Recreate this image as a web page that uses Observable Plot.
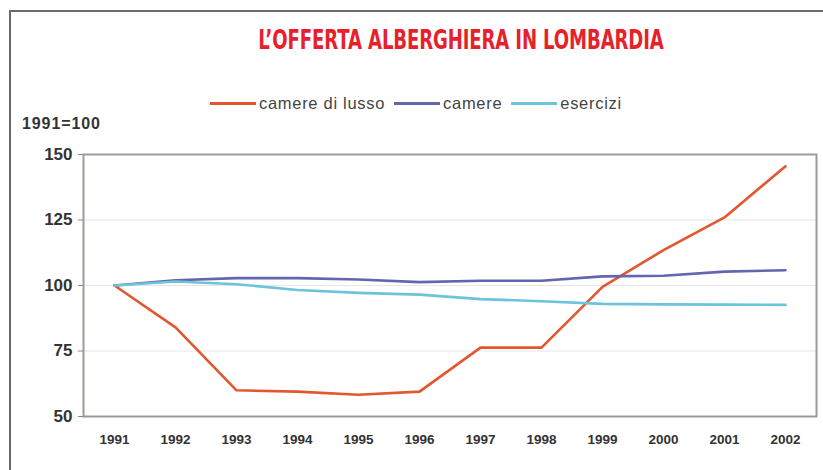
<!DOCTYPE html>
<html>
<head>
<meta charset="utf-8">
<script src="https://cdn.jsdelivr.net/npm/d3@7"></script>
<script src="https://cdn.jsdelivr.net/npm/@observablehq/plot@0.6"></script>
<style>
  html, body { margin: 0; padding: 0; background: #fff; }
  body { width: 823px; height: 470px; position: relative; overflow: hidden; font-family: "Liberation Sans", Arial, sans-serif; }
  #border { position: absolute; left: 9px; top: 10px; width: 830px; height: 480px; border-left: 2px solid #6a6a6a; border-top: 2px solid #6a6a6a; }
  #title { position: absolute; left: 0; width: 922px; top: 24px; text-align: center; color: #e8202a; font-family: "DejaVu Sans", sans-serif; font-weight: bold; font-size: 27px; letter-spacing: -0.2px; transform: scaleX(0.67); transform-origin: 461px 0; white-space: nowrap; }
  #legend { position: absolute; left: 210px; top: 94px; display: flex; align-items: center; font-size: 16.5px; letter-spacing: 0.7px; color: #444; }
  #legend .sw { display: inline-block; width: 46px; height: 3px; margin-right: 3px; }
  #legend .it { display: flex; align-items: center; margin-right: 9px; }
  #unit { position: absolute; left: 22px; top: 115px; font-size: 16px; letter-spacing: 0.9px; font-weight: bold; color: #333; }
  #chart { position: absolute; left: 0; top: 130px; }
</style>
</head>
<body>
<div id="border"></div>
<div id="title"></div>
<div id="legend"></div>
<div id="unit">1991=100</div>
<div id="chart"></div>
<script>
const years = [1991, 1992, 1993, 1994, 1995, 1996, 1997, 1998, 1999, 2000, 2001, 2002];
const camereLusso = [100, 84, 60, 59.5, 58.3, 59.5, 76.3, 76.3, 99.5, 113.5, 126, 145.5];
const camere = [100, 102, 102.8, 102.8, 102.3, 101.3, 101.8, 101.8, 103.5, 103.7, 105.3, 105.8];
const esercizi = [100, 101.5, 100.5, 98.3, 97.2, 96.5, 94.8, 94, 93, 92.8, 92.7, 92.6];
const seriesNames = ["camere di lusso", "camere", "esercizi"];
const seriesColors = ["#e3562f", "#6464b0", "#6cc4da"];
const yTicks = [50, 75, 100, 125, 150];
const titleText = "L’OFFERTA ALBERGHIERA IN LOMBARDIA";

document.getElementById("title").textContent = titleText;

const legend = document.getElementById("legend");
seriesNames.forEach((n, i) => {
  const it = document.createElement("span");
  it.className = "it";
  const sw = document.createElement("span");
  sw.className = "sw";
  sw.style.background = seriesColors[i];
  const tx = document.createElement("span");
  tx.textContent = n;
  it.appendChild(sw); it.appendChild(tx);
  legend.appendChild(it);
});

const allSeries = [camereLusso, camere, esercizi];
const data = [];
allSeries.forEach((vals, si) => {
  vals.forEach((v, i) => data.push({year: String(years[i]), value: v, series: seriesNames[si]}));
});

const chart = Plot.plot({
  width: 823,
  height: 326,
  marginLeft: 83,
  marginRight: 7,
  marginTop: 24,
  marginBottom: 40,
  style: { fontFamily: "Liberation Sans, Arial, sans-serif", background: "transparent", overflow: "visible" },
  x: { type: "point", domain: years.map(String), padding: 0.5, label: null },
  y: { domain: [50, 150], ticks: yTicks, label: null },
  color: { domain: seriesNames, range: seriesColors },
  marks: [
    Plot.ruleY([75, 100, 125], { stroke: "#e6e6e6", strokeWidth: 1 }),
    Plot.frame({ stroke: "#a09a96", strokeWidth: 2 }),
    Plot.axisY({ ticks: yTicks, tickSize: 5, tickPadding: 6, fontSize: 17, fontWeight: "bold", fill: "#333", stroke: "#888", label: null }),
    Plot.axisX({ tickSize: 0, tickPadding: 18, fontSize: 13.5, fontWeight: "bold", fill: "#333", label: null }),
    Plot.line(data, { x: "year", y: "value", z: "series", stroke: "series", strokeWidth: 2.6 })
  ]
});
document.getElementById("chart").appendChild(chart);
</script>
</body>
</html>
